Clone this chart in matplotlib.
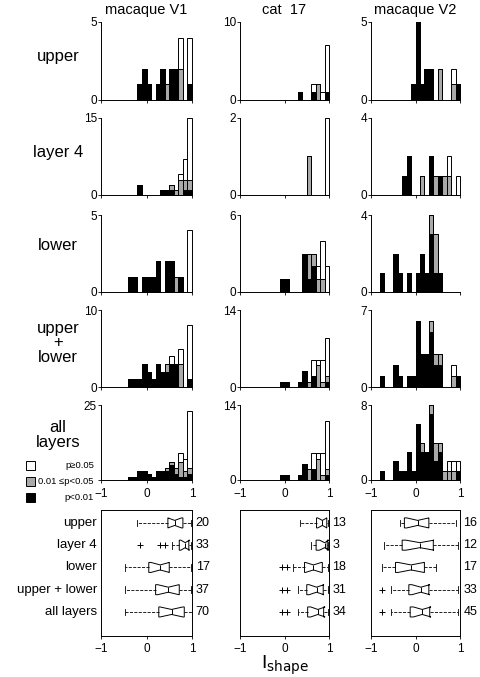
import numpy as np
import matplotlib.pyplot as plt
from matplotlib.patches import Rectangle

plt.rcParams['font.family'] = ['Liberation Sans', 'DejaVu Sans']

W, H = 480, 677

col_titles = ["macaque V1", "cat  17", "macaque V2"]
row_labels = ["upper", "layer 4", "lower", "upper\n+\nlower", "all\nlayers"]
y_max = [[5, 10, 5], [15, 2, 4], [5, 6, 4], [10, 14, 7], [25, 14, 8]]

# histogram counts per bin (bin centre, p<0.01, 0.01<=p<0.05, p>=0.05)
v1_upper = dict(x=[-0.15, -0.05, 0.05, 0.25, 0.35, 0.45, 0.55, 0.65, 0.75, 0.95],
                black=[1, 2, 1, 1, 2, 0, 2, 2, 0, 1],
                gray=[0, 0, 0, 0, 0, 1, 0, 0, 2, 0],
                white=[0, 0, 0, 0, 0, 0, 0, 0, 2, 3])
v1_layer4 = dict(x=[-0.15, 0.35, 0.45, 0.55, 0.65, 0.75, 0.85, 0.95],
                 black=[2, 1, 1, 1, 0, 0, 1, 1],
                 gray=[0, 0, 0, 1, 1, 3, 2, 2],
                 white=[0, 0, 0, 0, 0, 1, 4, 12])
v1_lower = dict(x=[-0.35, -0.25, -0.05, 0.05, 0.15, 0.25, 0.45, 0.55, 0.65, 0.75, 0.95],
                black=[1, 1, 1, 1, 1, 2, 2, 2, 0, 1, 0],
                gray=[0, 0, 0, 0, 0, 0, 0, 0, 1, 0, 0],
                white=[0, 0, 0, 0, 0, 0, 0, 0, 0, 0, 4])
v1_uplow = dict(x=[-0.35, -0.25, -0.15, -0.05, 0.05, 0.15, 0.25, 0.35, 0.45, 0.55, 0.65, 0.75, 0.95],
                black=[1, 1, 1, 3, 2, 1, 3, 2, 2, 3, 3, 0, 1],
                gray=[0, 0, 0, 0, 0, 0, 0, 0, 1, 0, 0, 3, 0],
                white=[0, 0, 0, 0, 0, 0, 0, 0, 0, 1, 0, 2, 7])
v1_all = dict(x=[-0.35, -0.25, -0.15, -0.05, 0.05, 0.15, 0.25, 0.35, 0.45, 0.55, 0.65, 0.75, 0.85, 0.95],
              black=[1, 1, 3, 3, 2, 1, 3, 3, 3, 5, 2, 1, 1, 2],
              gray=[0, 0, 0, 0, 0, 0, 0, 0, 1, 1, 2, 5, 2, 2],
              white=[0, 0, 0, 0, 0, 0, 0, 0, 0, 0, 0, 3, 4, 19])

cat_upper = dict(x=[0.35, 0.65, 0.75, 0.85, 0.95],
                 black=[1, 1, 0, 0, 1],
                 gray=[0, 0, 2, 0, 0],
                 white=[0, 1, 0, 1, 6])
cat_layer4 = dict(x=[0.55, 0.95],
                  black=[0, 0],
                  gray=[1, 0],
                  white=[0, 2])
cat_lower = dict(x=[-0.05, 0.05, 0.45, 0.55, 0.65, 0.75, 0.85, 0.95],
                 black=[1, 1, 3, 1, 2, 0, 0, 0],
                 gray=[0, 0, 0, 2, 1, 1, 1, 0],
                 white=[0, 0, 0, 0, 0, 1, 3, 2])
cat_uplow = dict(x=[-0.05, 0.05, 0.35, 0.45, 0.55, 0.65, 0.75, 0.85, 0.95],
                 black=[1, 1, 1, 3, 0, 2, 0, 0, 1],
                 gray=[0, 0, 0, 0, 1, 0, 4, 1, 1],
                 white=[0, 0, 0, 0, 0, 3, 1, 4, 7])
cat_all = dict(x=[-0.05, 0.05, 0.35, 0.45, 0.55, 0.65, 0.75, 0.85, 0.95],
               black=[1, 1, 1, 3, 0, 2, 0, 0, 1],
               gray=[0, 0, 0, 0, 2, 0, 4, 1, 1],
               white=[0, 0, 0, 0, 0, 3, 1, 4, 9])

v2_upper = dict(x=[-0.05, 0.05, 0.15, 0.25, 0.35, 0.55, 0.85, 0.95],
                black=[1, 5, 1, 2, 2, 0, 0, 1],
                gray=[0, 0, 0, 0, 0, 2, 1, 0],
                white=[0, 0, 0, 0, 0, 0, 1, 0])
v2_layer4 = dict(x=[-0.25, -0.15, 0.15, 0.35, 0.45, 0.55, 0.65, 0.75, 0.95],
                 black=[1, 2, 0, 2, 0, 1, 0, 0, 0],
                 gray=[0, 0, 1, 0, 1, 0, 1, 1, 0],
                 white=[0, 0, 0, 0, 0, 0, 0, 1, 1])
v2_lower = dict(x=[-0.75, -0.45, -0.35, -0.15, 0.05, 0.15, 0.25, 0.35, 0.45, 0.55],
                black=[1, 2, 1, 1, 1, 2, 1, 3, 1, 1],
                gray=[0, 0, 0, 0, 0, 0, 0, 1, 2, 0],
                white=[0, 0, 0, 0, 0, 0, 0, 0, 0, 0])
v2_uplow = dict(x=[-0.75, -0.45, -0.35, -0.15, -0.05, 0.05, 0.15, 0.25, 0.35, 0.45, 0.55, 0.85, 0.95],
                black=[1, 2, 1, 1, 1, 6, 3, 3, 5, 2, 2, 0, 1],
                gray=[0, 0, 0, 0, 0, 0, 0, 0, 1, 1, 1, 1, 0],
                white=[0, 0, 0, 0, 0, 0, 0, 0, 0, 0, 0, 1, 0])
v2_all = dict(x=[-0.75, -0.45, -0.35, -0.25, -0.15, -0.05, 0.05, 0.15, 0.25, 0.35, 0.45, 0.55, 0.65, 0.75, 0.85, 0.95],
              black=[1, 2, 1, 1, 3, 1, 6, 3, 3, 7, 2, 3, 0, 0, 0, 1],
              gray=[0, 0, 0, 0, 0, 0, 0, 1, 0, 1, 2, 1, 1, 1, 1, 0],
              white=[0, 0, 0, 0, 0, 0, 0, 0, 0, 0, 0, 0, 0, 1, 1, 1])

hists = [[v1_upper, cat_upper, v2_upper],
         [v1_layer4, cat_layer4, v2_layer4],
         [v1_lower, cat_lower, v2_lower],
         [v1_uplow, cat_uplow, v2_uplow],
         [v1_all, cat_all, v2_all]]

# box plot summaries (I_shape)
box_labels = ["upper", "layer 4", "lower", "upper + lower", "all layers"]
v1_n = [20, 33, 17, 37, 70]
cat_n = [13, 3, 18, 31, 34]
v2_n = [16, 12, 17, 33, 45]

v1_q1 = [0.47, 0.72, 0.05, 0.20, 0.27]
v1_med = [0.62, 0.85, 0.30, 0.48, 0.55]
v1_q3 = [0.80, 0.93, 0.50, 0.72, 0.83]
v1_lo = [-0.20, 0.55, -0.47, -0.47, -0.47]
v1_hi = [0.97, 0.98, 0.97, 0.97, 0.99]
v1_fliers = [[], [-0.14, 0.30, 0.41], [], [], []]

cat_q1 = [0.72, 0.71, 0.45, 0.50, 0.52]
cat_med = [0.85, 0.90, 0.65, 0.72, 0.75]
cat_q3 = [0.95, 0.96, 0.85, 0.87, 0.88]
cat_lo = [0.35, 0.60, 0.20, 0.30, 0.30]
cat_hi = [0.98, 0.97, 0.97, 0.98, 0.98]
cat_fliers = [[], [], [-0.05, 0.05], [-0.05, 0.05], [-0.05, 0.05]]

v2_q1 = [-0.25, -0.30, -0.45, -0.15, -0.12]
v2_med = [0.05, 0.10, -0.10, 0.12, 0.15]
v2_q3 = [0.30, 0.40, 0.20, 0.30, 0.32]
v2_lo = [-0.35, -0.70, -0.75, -0.55, -0.55]
v2_hi = [0.90, 0.95, 0.45, 0.95, 0.95]
v2_fliers = [[], [], [], [-0.75], [-0.75]]

boxes = [(v1_q1, v1_med, v1_q3, v1_lo, v1_hi, v1_fliers, v1_n),
         (cat_q1, cat_med, cat_q3, cat_lo, cat_hi, cat_fliers, cat_n),
         (v2_q1, v2_med, v2_q3, v2_lo, v2_hi, v2_fliers, v2_n)]

# layout in pixels
col_x = [(101, 192), (240, 329), (371, 460)]
row_y = [(22, 100), (118, 195), (215, 292), (310, 387), (405, 480)]
box_y = (510, 636)
gray_c = '#a9a9a9'

fig = plt.figure(figsize=(W / 100, H / 100), dpi=100)


def px_axes(x0, y0, x1, y1):
    return fig.add_axes([x0 / W, 1 - y1 / H, (x1 - x0) / W, (y1 - y0) / H])


for r in range(5):
    for c in range(3):
        d = hists[r][c]
        ax = px_axes(col_x[c][0], row_y[r][0], col_x[c][1], row_y[r][1])
        x = np.array(d["x"])
        b = np.array(d["black"])
        g = np.array(d["gray"])
        w = np.array(d["white"])
        tot = b + g + w
        bg = b + g
        m = tot > 0
        ax.bar(x[m], tot[m], width=0.1, color='white', edgecolor='black', linewidth=0.7, clip_on=False)
        m = bg > 0
        ax.bar(x[m], bg[m], width=0.1, color=gray_c, edgecolor='black', linewidth=0.7, clip_on=False)
        m = b > 0
        ax.bar(x[m], b[m], width=0.1, color='black', edgecolor='black', linewidth=0.7, clip_on=False)
        ax.set_xlim(-1, 1)
        ax.set_ylim(0, y_max[r][c])
        ax.set_yticks([0, y_max[r][c]])
        ax.set_xticks([-1, 0, 1])
        ax.tick_params(axis='y', labelsize=8.5, length=2, width=0.6, pad=1)
        ax.tick_params(axis='x', labelsize=8.5, length=2, width=0.6, pad=4)
        if r < 4:
            ax.set_xticklabels([])
        if r == 4 and c == 0:
            # the legend text sits where the zero label would be
            ax.set_yticklabels(["", str(y_max[r][c])])
        for s in ['top', 'right']:
            ax.spines[s].set_visible(False)
        for s in ['left', 'bottom']:
            ax.spines[s].set_linewidth(0.7)
        if r == 0:
            ax.set_title(col_titles[c], fontsize=10.5, pad=6)

# box plots
for c in range(3):
    q1, med, q3, lo, hi, fl, n = boxes[c]
    ax = px_axes(col_x[c][0], box_y[0], col_x[c][1], box_y[1])
    stats = []
    for i in range(5):
        iqr = q3[i] - q1[i]
        stats.append(dict(med=med[i], q1=q1[i], q3=q3[i], whislo=lo[i], whishi=hi[i],
                          fliers=fl[i], cilo=med[i] - 0.45 * iqr, cihi=med[i] + 0.45 * iqr))
    ax.bxp(stats, positions=range(1, 6), vert=False, widths=0.45, shownotches=True,
           patch_artist=True, capwidths=0.3,
           boxprops=dict(facecolor='white', edgecolor='black', linewidth=0.7),
           whiskerprops=dict(color='black', linestyle='--', linewidth=0.6),
           capprops=dict(color='black', linewidth=0.6),
           medianprops=dict(color='black', linewidth=0.7),
           flierprops=dict(marker='+', markersize=4, markeredgecolor='black', markeredgewidth=0.7))
    ax.set_xlim(-1, 1)
    ax.set_ylim(6.08, 0.42)
    ax.set_yticks([])
    ax.set_xticks([-1, 0, 1])
    ax.tick_params(labelsize=8.5, length=2, width=0.6, pad=3)
    for s in ax.spines.values():
        s.set_linewidth(0.7)
    for i in range(5):
        ax.text(1.08, i + 1, str(n[i]), fontsize=9, va='center', ha='left', clip_on=False)
    if c == 0:
        for i in range(5):
            ax.text(-1.09, i + 1, box_labels[i], fontsize=9.5, va='center', ha='right', clip_on=False)

# row labels and legend in pixel coordinates
ov = fig.add_axes([0, 0, 1, 1], facecolor='none')
ov.set_xlim(0, W)
ov.set_ylim(H, 0)
ov.axis('off')
label_y = [57, 152, 246, 343, 435]
for r in range(5):
    ov.text(58, label_y[r], row_labels[r], fontsize=12, ha='center', va='center', linespacing=1.0)

leg_labels = ["p\u22650.05", "0.01 \u2264p<0.05", "p<0.01"]
leg_colors = ['white', gray_c, 'black']
leg_y = [465, 481, 497]
for i in range(3):
    ov.add_patch(Rectangle((26, leg_y[i] - 4.5), 9, 9, facecolor=leg_colors[i], edgecolor='black', linewidth=0.7))
    ov.text(94, leg_y[i], leg_labels[i], fontsize=6.8, ha='right', va='center')

ov.text(285, 669, "I$_{\\mathrm{shape}}$", fontsize=14, ha='center', va='baseline')

fig.savefig("out.png", dpi=100)
